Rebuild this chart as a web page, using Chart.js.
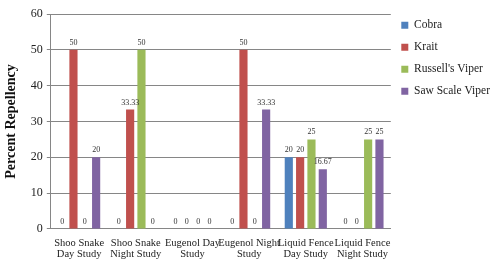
<!DOCTYPE html>
<html>
<head>
<meta charset="utf-8">
<script src="https://cdn.jsdelivr.net/npm/chart.js@4"></script>
<style>
  html, body { margin: 0; padding: 0; background: #fff; }
  #wrap { width: 500px; height: 269px; }
</style>
</head>
<body>
<div id="wrap"><canvas id="repChart"></canvas></div>
<script>
// Data
const studies = [
    ['Shoo Snake', 'Day Study'],
    ['Shoo Snake', 'Night Study'],
    ['Eugenol Day', 'Study'],
    ['Eugenol Night', 'Study'],
    ['Liquid Fence', 'Day Study'],
    ['Liquid Fence', 'Night Study']
];
const cobra = [0, 0, 0, 0, 20, 0];
const krait = [50, 33.33, 0, 50, 20, 0];
const russellsViper = [0, 50, 0, 0, 25, 25];
const sawScaleViper = [20, 0, 0, 33.33, 16.67, 25];
const yTicks = [0, 10, 20, 30, 40, 50, 60];

const serif = "'Liberation Serif', 'DejaVu Serif', serif";

// value labels above each bar
const valueLabels = {
    id: 'valueLabels',
    afterDatasetsDraw(chart) {
        const ctx = chart.ctx;
        ctx.save();
        ctx.font = '8px ' + serif;
        ctx.fillStyle = '#333';
        ctx.textAlign = 'center';
        ctx.textBaseline = 'bottom';
        chart.data.datasets.forEach((ds, i) => {
            const meta = chart.getDatasetMeta(i);
            meta.data.forEach((bar, j) => {
                ctx.fillText(String(ds.data[j]), bar.x, bar.y - 3);
            });
        });
        ctx.restore();
    }
};

// nudge the legend up a bit, it sits near the top of the plot in the original
const legendNudge = {
    id: 'legendNudge',
    afterLayout(chart) {
        chart.legend.top -= 5;
        chart.legend.bottom -= 5;
    }
};

const ctx = document.getElementById('repChart').getContext('2d');
new Chart(ctx, {
    type: 'bar',
    data: {
        labels: studies,
        datasets: [
            { label: 'Cobra', data: cobra, backgroundColor: '#4F81BD' },
            { label: 'Krait', data: krait, backgroundColor: '#C0504D' },
            { label: "Russell's Viper", data: russellsViper, backgroundColor: '#9BBB59' },
            { label: 'Saw Scale Viper', data: sawScaleViper, backgroundColor: '#8064A2' }
        ]
    },
    options: {
        responsive: true,
        maintainAspectRatio: false,
        animation: false,
        datasets: {
            bar: { categoryPercentage: 0.8, barPercentage: 0.72 }
        },
        layout: { padding: { top: 14, right: 0, left: 3, bottom: 0 } },
        plugins: {
            tooltip: { enabled: false },
            legend: {
                position: 'right',
                align: 'start',
                labels: {
                    boxWidth: 7,
                    boxHeight: 7,
                    padding: 10.5,
                    color: '#222',
                    font: { family: serif, size: 11.5 }
                }
            }
        },
        scales: {
            x: {
                grid: { display: false, drawTicks: false },
                border: { color: '#868686' },
                ticks: {
                    color: '#222',
                    maxRotation: 0,
                    autoSkip: false,
                    padding: 9,
                    font: { family: serif, size: 10.5, lineHeight: 1.05 }
                }
            },
            y: {
                min: 0,
                max: 60,
                afterBuildTicks(axis) {
                    axis.ticks = yTicks.map(v => ({ value: v }));
                },
                grid: { color: '#868686', tickLength: 4 },
                border: { color: '#868686' },
                ticks: {
                    color: '#222',
                    padding: 4,
                    font: { family: serif, size: 12 }
                },
                title: {
                    display: true,
                    text: 'Percent Repellency',
                    color: '#111',
                    padding: { top: 0, bottom: 7 },
                    font: { family: serif, size: 14, weight: 'bold' }
                }
            }
        }
    },
    plugins: [valueLabels, legendNudge]
});
</script>
</body>
</html>
